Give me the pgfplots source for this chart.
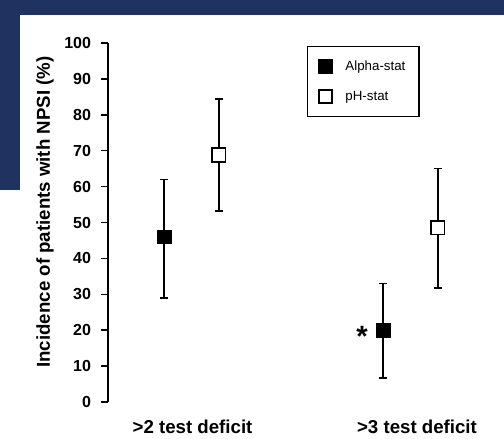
\documentclass[border=0pt]{standalone}
\usepackage{pgfplots}
\pgfplotsset{compat=1.18}
\usepackage{pgfplotstable}
\usepackage{fontspec}
\setmainfont{Liberation Sans}
\definecolor{navy}{RGB}{31,50,96}

\pgfplotstableread{
x y ep em
1 46 16 17
2 20 13 13.3
}\alphadata
\pgfplotstableread{
x y ep em
1.25 68.8 15.6 15.6
2.25 48.5 16.5 16.8
}\phdata

\begin{document}
\begin{tikzpicture}
\useasboundingbox (0pt,0pt) rectangle (378pt,329.25pt);
\fill[white] (0pt,0pt) rectangle (378pt,329.25pt);
\fill[navy] (0pt,318pt) rectangle (378pt,329.25pt);
\fill[navy] (0pt,186.75pt) rectangle (15pt,329.25pt);
\begin{axis}[
  at={(81pt,27.75pt)}, anchor=south west,
  scale only axis, width=294pt, height=269.25pt,
  xmin=0.744, xmax=2.534, ymin=0, ymax=100,
  axis lines*=left,
  x axis line style={draw=none},
  y axis line style={line width=1.1pt},
  xtick={1.13,2.155},
  xticklabels={{>2 test deficit},{>3 test deficit}},
  major x tick style={draw=none},
  ytick={0,10,...,100},
  tick align=outside,
  major tick length=5.25pt,
  major y tick style={line width=1.1pt, black},
  /pgf/number format/assume math mode=true,
  yticklabel style={font=\fontsize{12}{14}\selectfont\bfseries, xshift=-4pt},
  xticklabel style={font=\fontsize{14}{16}\selectfont\bfseries, yshift=-5pt},
  ylabel={Incidence of patients with NPSI (\%)},
  every axis y label/.style={at={(rel axis cs:-0.1607,0.529)}, rotate=90, anchor=center,
    font=\fontsize{14}{16}\selectfont\bfseries},
  legend style={at={(rel axis cs:0.5077,0.9916)}, anchor=north west,
    draw=black, line width=1.1pt, inner xsep=8pt, inner ysep=8.5pt,
    font=\fontsize{10}{12}\selectfont, row sep=10pt},
  legend cell align=left,
  legend image code/.code={\path (0pt,0pt) (17pt,0pt);\draw[mark repeat=2,mark phase=2,#1] plot coordinates {(0pt,0pt)(4.5pt,0pt)(17pt,0pt)};},
  clip=false,
]
\addplot[only marks, mark=square*, mark size=5.2pt, black,
  mark options={line width=0.5pt},
  error bars/.cd, y dir=both, y explicit,
  error mark=-, error mark options={black, mark size=2.8pt, line width=1.2pt, rotate=90},
  error bar style={line width=1.2pt, black}]
  table[x=x, y=y, y error plus=ep, y error minus=em] {\alphadata};
\addlegendentry{Alpha-stat}
\addplot[only marks, mark=square*, mark size=5pt, black,
  mark options={fill=white, line width=1.3pt},
  error bars/.cd, y dir=both, y explicit,
  error mark=-, error mark options={black, mark size=2.8pt, line width=1.2pt, rotate=90},
  error bar style={line width=1.2pt, black}]
  table[x=x, y=y, y error plus=ep, y error minus=em] {\phdata};
\addlegendentry{pH-stat}
\node[font=\fontsize{22}{22}\selectfont\bfseries, yshift=-4.6pt] at (axis cs:1.904,20) {*};
\end{axis}
\end{tikzpicture}
\end{document}
